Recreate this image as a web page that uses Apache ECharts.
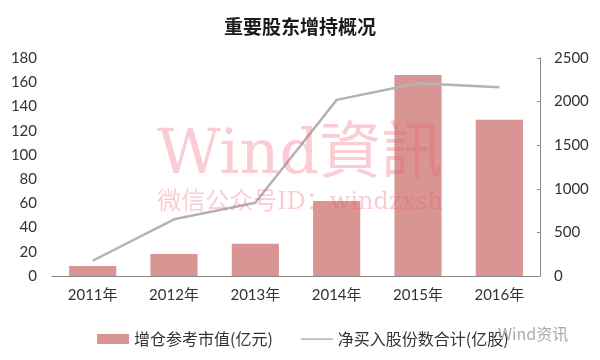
<!DOCTYPE html>
<html><head><meta charset="utf-8">
<script src="https://cdn.jsdelivr.net/npm/echarts@6/dist/echarts.min.js"></script>
<style>html,body{margin:0;padding:0;background:#fff}#c{width:600px;height:360px}</style>
</head><body><div id="c"></div>
<script>
const categories = ['2011年','2012年','2013年','2014年','2015年','2016年'];
const marketValue = [8.3, 18.2, 26.7, 62, 166, 129];
const netShares = [175, 650, 840, 2020, 2210, 2165];
const leftTicks = {min:0, max:180, interval:20};
const rightTicks = {min:0, max:2500, interval:500};
const seriesNames = ['增仓参考市值(亿元)', '净买入股份数合计(亿股)'];

const chart = echarts.init(document.getElementById('c'), null, {renderer:'canvas'});
const labelFont = {fontFamily:'Lato, "Noto Sans CJK SC", sans-serif', fontSize:15, color:'#333'};
chart.setOption({
  animation:false,
  backgroundColor:'#fff',
  title:{text:'重要股东增持概况', left:'center', top:12,
    textStyle:{fontFamily:'"Noto Sans CJK SC", sans-serif', fontSize:19, fontWeight:'bold', color:'#1a1a1a'}},
  grid:{left:52, right:60, top:58, bottom:84, containLabel:false},
  legend:{left:92, top:326, itemWidth:32, itemHeight:10, itemGap:28,
    textStyle:{fontFamily:'"Noto Sans CJK SC", sans-serif', fontSize:16, color:'#333'},
    data:[{name:seriesNames[0], icon:'rect'},
          {name:seriesNames[1], icon:'path://M0,0M0,4.2h32v1.8h-32zM32,10', itemStyle:{color:'#bdbdbd'}}]},
  xAxis:{type:'category', data:categories,
    axisLine:{lineStyle:{color:'#8a8a8a', width:1}}, axisTick:{show:false},
    axisLabel:Object.assign({margin:12}, labelFont)},
  yAxis:[
    {type:'value', min:leftTicks.min, max:leftTicks.max, interval:leftTicks.interval,
     axisLine:{show:false}, axisTick:{show:false}, splitLine:{show:false},
     axisLabel:Object.assign({margin:15}, labelFont)},
    {type:'value', position:'right', min:rightTicks.min, max:rightTicks.max, interval:rightTicks.interval,
     axisLine:{show:true, lineStyle:{color:'#8a8a8a', width:1}},
     axisTick:{show:true, inside:true, length:3, lineStyle:{color:'#8a8a8a'}},
     splitLine:{show:false},
     axisLabel:Object.assign({margin:14, formatter:function(v){return String(v);}}, labelFont)}
  ],
  graphic:{zlevel:1, z:100, elements:[
    {type:'text', left:'center', top:126, zlevel:1, z:100, silent:true,
     style:{text:'Wind資訊', fontFamily:'"DejaVu Serif", "Noto Sans CJK TC", serif', fontSize:62, fill:'rgba(235,90,110,0.3)'}},
    {type:'text', left:'center', top:191, zlevel:1, z:100, silent:true,
     style:{text:'微信公众号ID：windzxsh', fontFamily:'"DejaVu Serif", "Noto Sans CJK SC", serif', fontSize:24, fill:'rgba(235,90,110,0.3)'}},
    {type:'text', left:498, top:326, zlevel:1, z:100, silent:true,
     style:{text:'Wind资讯', fontFamily:'"Noto Sans CJK SC", sans-serif', fontSize:16, fill:'rgba(150,150,150,0.8)'}}
  ]},
  series:[
    {name:seriesNames[0], type:'bar', data:marketValue, yAxisIndex:0, barWidth:'58%',
     itemStyle:{color:'#d99594'}},
    {name:seriesNames[1], type:'line', data:netShares, yAxisIndex:1, symbol:'none',
     lineStyle:{color:'#b3b3b3', width:2.5}, itemStyle:{color:'#b3b3b3'}, z:3}
  ]
});
</script></body></html>
